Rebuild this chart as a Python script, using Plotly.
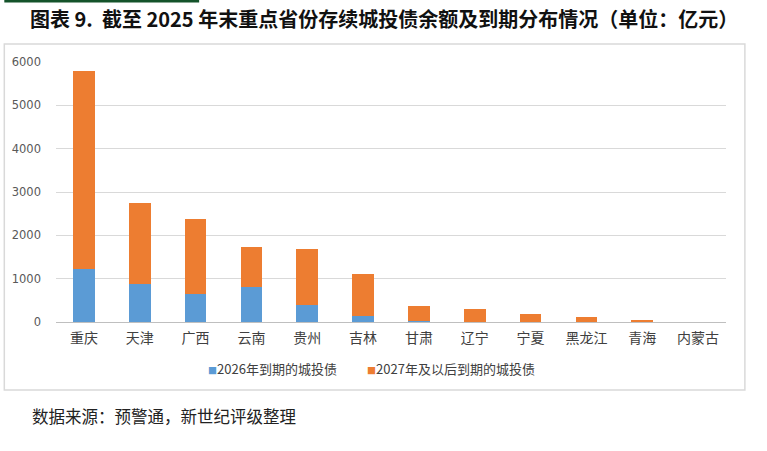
import plotly.graph_objects as go

provinces = ["重庆", "天津", "广西", "云南", "贵州", "吉林", "甘肃", "辽宁", "宁夏", "黑龙江", "青海", "内蒙古"]
due_2026 = [1230, 870, 655, 810, 385, 130, 30, 10, 5, 10, 5, 0]
due_2027_later = [4570, 1880, 1715, 925, 1295, 970, 340, 285, 190, 105, 40, 5]
y_ticks = [0, 1000, 2000, 3000, 4000, 5000, 6000]
series_names = ["2026年到期的城投债", "2027年及以后到期的城投债"]
series_colors = ["#5B9BD5", "#ED7D31"]

W, H = 767, 451
L, R, T, B = 52, 41, 62, 129
pw, ph = W - L - R, H - T - B

def px(x):
    return (x - L) / pw

def py(y):
    return (H - B - y) / ph

font_cjk = "Noto Sans CJK SC, Noto Sans, sans-serif"

fig = go.Figure()
for name, vals, col in zip(series_names, [due_2026, due_2027_later], series_colors):
    fig.add_trace(go.Bar(name=name, x=provinces, y=vals, showlegend=False,
                         marker=dict(color=col, line=dict(width=0))))

legend_x = [203, 363]
legend_ann = [
    dict(text=f"<span style='color:{c};font-size:9px'>■</span>{n}",
         xref="paper", yref="paper", x=px(x0), y=py(368), xanchor="left", yanchor="middle",
         showarrow=False, font=dict(size=13, color="#404040", family=font_cjk))
    for n, c, x0 in zip(series_names, series_colors, legend_x)
]

fig.update_layout(
    width=W, height=H,
    margin=dict(l=L, r=R, t=T, b=B, pad=0),
    barmode="stack", bargap=0.61,
    paper_bgcolor="white", plot_bgcolor="white",
    font=dict(family=font_cjk, color="#404040"),
    showlegend=False,
    xaxis=dict(showgrid=False, showline=False, ticks="", tickfont=dict(size=14, color="#404040"),
               ticklabelstandoff=6, fixedrange=True),
    yaxis=dict(range=[0, 6000], tickvals=y_ticks, showgrid=True, gridcolor="#D9D9D9", gridwidth=1,
               zeroline=True, zerolinecolor="#BFBFBF", zerolinewidth=1,
               tickfont=dict(size=11.5, color="#595959", family="DejaVu Sans, sans-serif"),
               ticks="", ticklabelstandoff=14, fixedrange=True),
    shapes=[
        dict(type="rect", xref="paper", yref="paper", x0=px(0), x1=px(745), y0=py(390), y1=py(44),
             line=dict(color="#D9D9D9", width=1.5), fillcolor="rgba(0,0,0,0)", layer="below"),
        dict(type="line", xref="paper", yref="paper", x0=px(0), x1=px(196), y0=py(1), y1=py(1),
             line=dict(color="#14532a", width=3)),
    ],
    annotations=[
        dict(text="<b>图表 9.  截至 2025 年末重点省份存续城投债余额及到期分布情况（单位：亿元）</b>",
             xref="paper", yref="paper", x=px(382), y=py(19), xanchor="center", yanchor="middle",
             showarrow=False, font=dict(size=20, color="#111111", family=font_cjk)),
        dict(text="数据来源：预警通，新世纪评级整理",
             xref="paper", yref="paper", x=px(26), y=py(416), xanchor="left", yanchor="middle",
             showarrow=False, font=dict(size=16.5, color="#222222", family=font_cjk)),
    ] + legend_ann,
)

fig.write_html("out.html", config={"displayModeBar": False, "staticPlot": True},
               post_script="document.body.style.margin='0px';document.body.style.overflow='hidden';")
